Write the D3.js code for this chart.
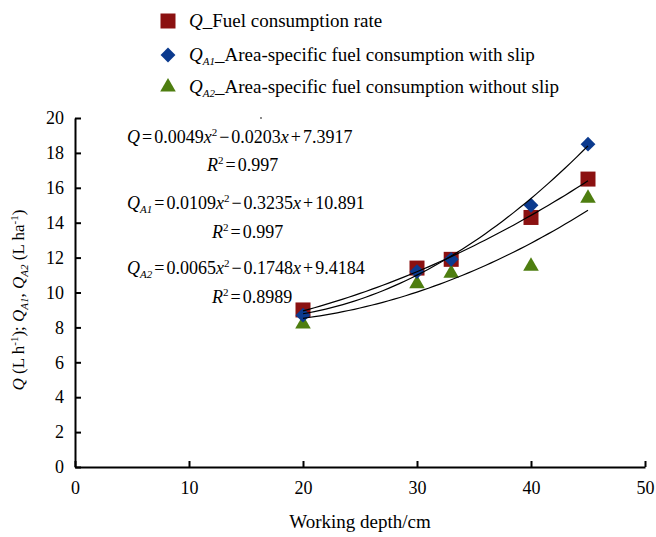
<!DOCTYPE html>
<html>
<head>
<meta charset="utf-8">
<script src="https://cdn.jsdelivr.net/npm/d3@7"></script>
<style>
  body { margin: 0; background: #fff; }
</style>
</head>
<body>
<svg id="chart" width="656" height="537"></svg>
<script>
// data
const depth = [20, 30, 33, 40, 45];
const fuelRate = [9.0, 11.4, 11.9, 14.3, 16.5];       // Q
const areaWithSlip = [8.7, 11.2, 11.9, 15.0, 18.5];   // QA1
const areaNoSlip = [8.2, 10.5, 11.1, 11.5, 15.4];     // QA2
const xTicks = [0, 10, 20, 30, 40, 50];
const yTicks = [0, 2, 4, 6, 8, 10, 12, 14, 16, 18, 20];
// quadratic trend coefficients printed on the chart [a, b, c]
const fitQ = [0.0049, -0.0203, 7.3917];
const fitQA1 = [0.0109, -0.3235, 10.891];
const fitQA2 = [0.0065, -0.1748, 9.4184];

const serif = '"Liberation Serif", "Times New Roman", Times, serif';
const svg = d3.select("#chart").attr("font-family", serif);
let margin = {top: 118, right: 11, bottom: 70, left: 75};
let w = 656 - margin.left - margin.right, h = 537 - margin.top - margin.bottom;

const x = d3.scaleLinear().domain([0, 50]).range([margin.left, margin.left + w]);
const y = d3.scaleLinear().domain([0, 20]).range([margin.top + h, margin.top]);

// axes, ticks pointing inward
const xAxis = svg.append("g")
  .attr("transform", `translate(0, ${y(0)})`)
  .call(d3.axisBottom(x).tickValues(xTicks).tickSizeInner(-6).tickSizeOuter(0).tickPadding(14));
const yAxis = svg.append("g")
  .attr("transform", `translate(${x(0)}, 0)`)
  .call(d3.axisLeft(y).tickValues(yTicks).tickSizeInner(-6).tickSizeOuter(0).tickPadding(11));
[xAxis, yAxis].forEach(g => {
  g.attr("font-family", serif).attr("font-size", 18);
  g.select(".domain").attr("stroke", "#000").attr("stroke-width", 2);
  g.selectAll(".tick line").attr("stroke", "#000").attr("stroke-width", 2);
  g.selectAll(".tick text").attr("fill", "#000");
});

// axis titles
svg.append("text")
  .attr("x", x(25)).attr("y", 528)
  .attr("text-anchor", "middle").attr("font-size", 19)
  .text("Working depth/cm");

const yt = svg.append("text")
  .attr("transform", `translate(24, 300) rotate(-90)`)
  .attr("text-anchor", "middle").attr("font-size", 17);
yt.append("tspan").attr("font-style", "italic").text("Q");
yt.append("tspan").text(" (L h");
yt.append("tspan").attr("dy", -6).attr("font-size", 11).text("-1");
yt.append("tspan").attr("dy", 6).text("); ");
yt.append("tspan").attr("font-style", "italic").text("Q");
yt.append("tspan").attr("dy", 4).attr("font-size", 11).attr("font-style", "italic").text("A1");
yt.append("tspan").attr("dy", -4).text(", ");
yt.append("tspan").attr("font-style", "italic").text("Q");
yt.append("tspan").attr("dy", 4).attr("font-size", 11).attr("font-style", "italic").text("A2");
yt.append("tspan").attr("dy", -4).text(" (L ha");
yt.append("tspan").attr("dy", -6).attr("font-size", 11).text("-1");
yt.append("tspan").attr("dy", 6).text(")");

// markers
const cRed = "#8b1111", cBlue = "#0b3a8e", cGreen = "#4e7e10";
const sq = d3.symbol().type(d3.symbolSquare).size(225);
const tri = d3.symbol().type(d3.symbolTriangle).size(105);
const dia = d3.symbol().type(d3.symbolSquare).size(110);   // rotated 45deg below
const diaT = " rotate(45)";

svg.selectAll(".sq").data(depth).join("path")
  .attr("d", sq).attr("fill", cRed)
  .attr("transform", (d, i) => `translate(${x(d)}, ${y(fuelRate[i])})`);
svg.selectAll(".tri").data(depth).join("path")
  .attr("d", tri).attr("fill", cGreen)
  .attr("transform", (d, i) => `translate(${x(d)}, ${y(areaNoSlip[i])})`);
svg.selectAll(".dia").data(depth).join("path")
  .attr("d", dia).attr("fill", cBlue)
  .attr("transform", (d, i) => `translate(${x(d)}, ${y(areaWithSlip[i])})` + diaT);

// trend curves from the printed equations
const line = d3.line().x(d => x(d[0])).y(d => y(d[1]));
[fitQ, fitQA1, fitQA2].forEach(c => {
  const pts = d3.range(20, 45.01, 0.5).map(v => [v, c[0]*v*v + c[1]*v + c[2]]);
  svg.append("path").datum(pts).attr("d", line)
    .attr("fill", "none").attr("stroke", "#000").attr("stroke-width", 1.2);
});

// rich text helper: [text, kind]; kind: i=italic, sub, sup, op (operator with gaps)
function rich(xp, yp, size, parts) {
  const t = svg.append("text").attr("x", xp).attr("y", yp).attr("font-size", size);
  let shift = 0, gap = 0;
  parts.forEach(([s, k]) => {
    const sp = t.append("tspan").text(s);
    let target = 0;
    if (k === "sub") { target = 4; sp.attr("font-size", 11).attr("font-style", "italic"); }
    if (k === "sup") { target = -7; sp.attr("font-size", 11); }
    if (k === "i") sp.attr("font-style", "italic");
    if (target !== shift) { sp.attr("dy", target - shift); shift = target; }
    if (k === "op") { sp.attr("dx", 2); gap = 2; }
    else if (gap) { sp.attr("dx", gap); gap = 0; }
  });
}
function eq(xp, yp, sub, a, b, c) {
  const parts = [["Q", "i"]];
  if (sub) parts.push([sub, "sub"]);
  parts.push(["=", "op"], [a, ""], ["x", "i"], ["2", "sup"], ["\u2212", "op"],
             [b, ""], ["x", "i"], ["+", "op"], [c, ""]);
  rich(xp, yp, 18, parts);
}
function r2(xp, yp, v) {
  rich(xp, yp, 18, [["R", "i"], ["2", "sup"], ["=", "op"], [v, ""]]);
}
eq(127, 143, null, "0.0049", "0.0203", "7.3917");
r2(207, 171, "0.997");
eq(127, 209, "A1", "0.0109", "0.3235", "10.891");
r2(212, 238, "0.997");
eq(127, 274, "A2", "0.0065", "0.1748", "9.4184");
r2(212, 303, "0.8989");

// small stray dot in the original figure
svg.append("circle").attr("cx", 261).attr("cy", 118).attr("r", 0.9).attr("fill", "#555");

// legend
const legend = [
  {sym: sq, col: cRed, sub: null, label: "_Fuel consumption rate", yy: 21},
  {sym: dia, col: cBlue, sub: "A1", label: "_Area-specific fuel consumption with slip", yy: 55},
  {sym: tri, col: cGreen, sub: "A2", label: "_Area-specific fuel consumption without slip", yy: 87}
];
legend.forEach(l => {
  svg.append("path").attr("d", l.sym).attr("fill", l.col)
    .attr("transform", `translate(168, ${l.yy})` + (l.sym === dia ? diaT : ""));
  const parts = [["Q", "i"]];
  if (l.sub) parts.push([l.sub, "sub"]);
  parts.push([l.label, ""]);
  rich(189, l.yy + 6, 19, parts);
});
</script>
</body>
</html>
